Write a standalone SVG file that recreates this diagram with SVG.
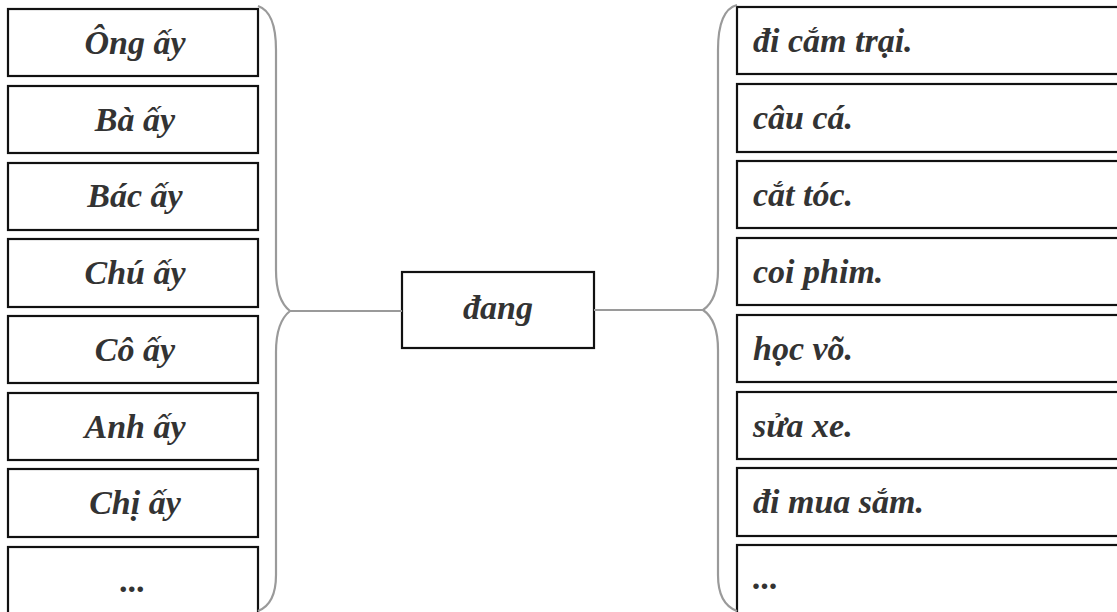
<svg xmlns="http://www.w3.org/2000/svg" width="1117" height="612" viewBox="0 0 1117 612">
<style>
.box{fill:#fff;stroke:#111;stroke-width:2.2}
.t{font-family:"Liberation Serif","Times New Roman",serif;font-style:italic;font-weight:bold;font-size:34px;fill:#333}
.c{text-anchor:middle}
.brace{fill:none;stroke:#9a9a9a;stroke-width:2.2}
.link{fill:none;stroke:#9a9a9a;stroke-width:1.8}
</style>
<rect width="1117" height="612" fill="#fff"/>
<g id="left">
<g id="l1"><rect class="box" x="8" y="9" width="250" height="67"/><text class="t c" x="135" y="54">Ông ấy</text></g>
<g id="l2"><rect class="box" x="8" y="86" width="250" height="67"/><text class="t c" x="135" y="131">Bà ấy</text></g>
<g id="l3"><rect class="box" x="8" y="163" width="250" height="67"/><text class="t c" x="135" y="207">Bác ấy</text></g>
<g id="l4"><rect class="box" x="8" y="239" width="250" height="68"/><text class="t c" x="135" y="284">Chú ấy</text></g>
<g id="l5"><rect class="box" x="8" y="316" width="250" height="67"/><text class="t c" x="135" y="361">Cô ấy</text></g>
<g id="l6"><rect class="box" x="8" y="393" width="250" height="67"/><text class="t c" x="135" y="438">Anh ấy</text></g>
<g id="l7"><rect class="box" x="8" y="469" width="250" height="68"/><text class="t c" x="135" y="514">Chị ấy</text></g>
<g id="l8"><rect class="box" x="8" y="547" width="250" height="70"/><text class="t c" x="133" y="592">...</text></g>
</g>
<g id="center"><rect class="box" x="402" y="272" width="192" height="76"/><text class="t c" x="498" y="319">đang</text></g>
<g id="right">
<g id="r1"><rect class="box" x="737" y="7" width="390" height="67"/><text class="t" x="753" y="52">đi cắm trại.</text></g>
<g id="r2"><rect class="box" x="737" y="84" width="390" height="68"/><text class="t" x="753" y="129">câu cá.</text></g>
<g id="r3"><rect class="box" x="737" y="161" width="390" height="67"/><text class="t" x="753" y="206">cắt tóc.</text></g>
<g id="r4"><rect class="box" x="737" y="238" width="390" height="67"/><text class="t" x="753" y="283">coi phim.</text></g>
<g id="r5"><rect class="box" x="737" y="315" width="390" height="67"/><text class="t" x="753" y="360">học võ.</text></g>
<g id="r6"><rect class="box" x="737" y="392" width="390" height="67"/><text class="t" x="753" y="437">sửa xe.</text></g>
<g id="r7"><rect class="box" x="737" y="468" width="390" height="68"/><text class="t" x="753" y="513">đi mua sắm.</text></g>
<g id="r8"><rect class="box" x="737" y="545" width="390" height="72"/><text class="t" x="753" y="589">...</text></g>
</g>
<g id="connectors">
<path class="brace" d="M258,6 Q276,12 276,50 L276,270 Q276,300 290,311 Q276,322 276,352 L276,575 Q276,604 258,611"/>
<path class="brace" d="M737,5 Q718,10 718,50 L718,270 Q718,300 703,310 Q718,320 718,350 L718,575 Q718,604 737,611"/>
<path class="link" d="M290,311 L402,311"/>
<path class="link" d="M594,310 L703,310"/>
</g>
</svg>
